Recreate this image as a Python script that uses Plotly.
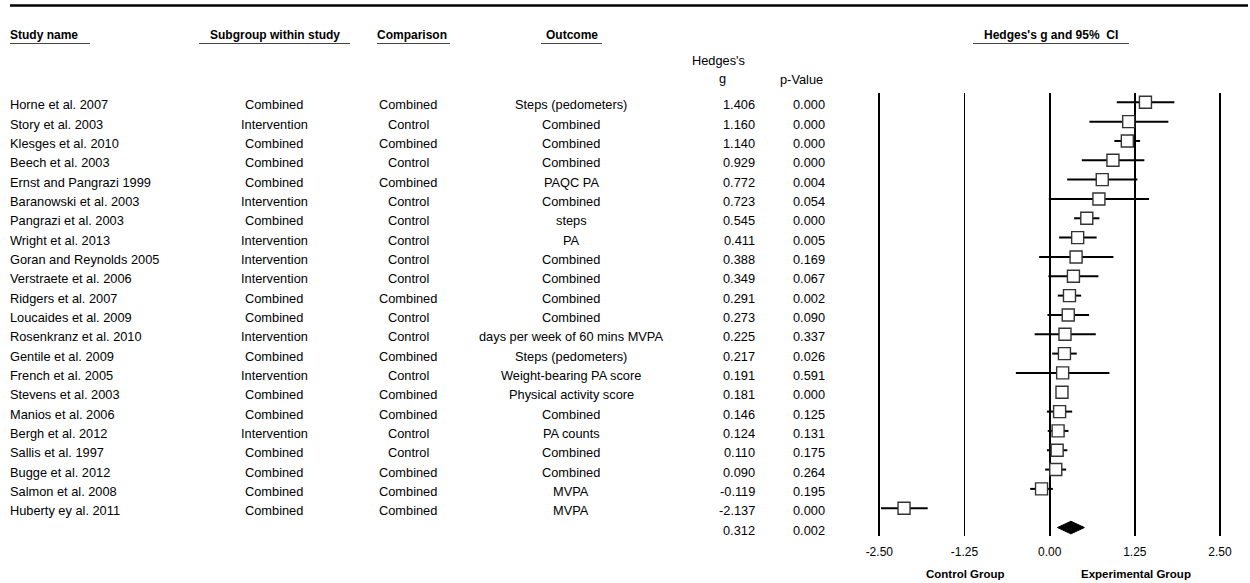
import plotly.graph_objects as go

# ---------------- data ----------------
studies = ["Horne et al. 2007", "Story et al. 2003", "Klesges et al. 2010", "Beech et al. 2003",
           "Ernst and Pangrazi 1999", "Baranowski et al. 2003", "Pangrazi et al. 2003", "Wright et al. 2013",
           "Goran and Reynolds 2005", "Verstraete et al. 2006", "Ridgers et al. 2007", "Loucaides et al. 2009",
           "Rosenkranz et al. 2010", "Gentile et al. 2009", "French et al. 2005", "Stevens et al. 2003",
           "Manios et al. 2006", "Bergh et al. 2012", "Sallis et al. 1997", "Bugge et al. 2012",
           "Salmon et al. 2008", "Huberty ey al. 2011"]
subgroups = ["Combined", "Intervention", "Combined", "Combined", "Combined", "Intervention", "Combined",
             "Intervention", "Intervention", "Intervention", "Combined", "Combined", "Intervention", "Combined",
             "Intervention", "Combined", "Combined", "Intervention", "Combined", "Combined", "Combined", "Combined"]
comparisons = ["Combined", "Control", "Combined", "Control", "Combined", "Control", "Control", "Control",
               "Control", "Control", "Combined", "Control", "Control", "Combined", "Control", "Combined",
               "Combined", "Control", "Control", "Combined", "Combined", "Combined"]
outcomes = ["Steps (pedometers)", "Combined", "Combined", "Combined", "PAQC PA", "Combined", "steps", "PA",
            "Combined", "Combined", "Combined", "Combined", "days per week of 60 mins MVPA",
            "Steps (pedometers)", "Weight-bearing PA score", "Physical activity score", "Combined",
            "PA counts", "Combined", "Combined", "MVPA", "MVPA"]
hedges_g = [1.406, 1.160, 1.140, 0.929, 0.772, 0.723, 0.545, 0.411, 0.388, 0.349, 0.291, 0.273,
            0.225, 0.217, 0.191, 0.181, 0.146, 0.124, 0.110, 0.090, -0.119, -2.137]
p_values = [0.000, 0.000, 0.000, 0.000, 0.004, 0.054, 0.000, 0.005, 0.169, 0.067, 0.002, 0.090,
            0.337, 0.026, 0.591, 0.000, 0.125, 0.131, 0.175, 0.264, 0.195, 0.000]
ci_lower = [0.985, 0.584, 0.950, 0.472, 0.257, -0.012, 0.359, 0.139, -0.154, -0.018, 0.120, -0.032,
            -0.220, 0.037, -0.496, 0.155, -0.040, -0.028, -0.040, -0.066, -0.286, -2.475]
ci_upper = [1.830, 1.742, 1.327, 1.390, 1.287, 1.458, 0.730, 0.690, 0.936, 0.716, 0.462, 0.579,
            0.677, 0.398, 0.877, 0.207, 0.330, 0.276, 0.260, 0.242, 0.047, -1.790]
summary_g = 0.312
summary_p = 0.002
summary_lower = 0.115
summary_upper = 0.510
tick_values = [-2.50, -1.25, 0.00, 1.25, 2.50]
tick_labels = ["-2.50", "-1.25", "0.00", "1.25", "2.50"]

# ---------------- layout helpers ----------------
W, H = 1250, 583
ROW0, ROWH = 102.3, 19.33
def PX(x): return x / W
def PY(y): return 1 - y / H
def ROW(p): return (p - ROW0) / ROWH

FONT = "Arial, Liberation Sans, sans-serif"
TXT = 12.8
n = len(studies)
rows = list(range(n))
sum_row = n

fig = go.Figure()

# study markers with CIs
fig.add_trace(go.Scatter(
    x=hedges_g, y=rows, mode="markers",
    marker=dict(symbol="square", size=12, color="white", line=dict(color="#333333", width=1.4)),
    error_x=dict(type="data", symmetric=False,
                 array=[u - g for u, g in zip(ci_upper, hedges_g)],
                 arrayminus=[g - l for g, l in zip(hedges_g, ci_lower)],
                 color="black", thickness=2, width=0),
    cliponaxis=False, hoverinfo="skip", showlegend=False))

# summary diamond
hh = 6.3 / ROWH
fig.add_trace(go.Scatter(
    x=[summary_lower, summary_g, summary_upper, summary_g, summary_lower],
    y=[sum_row, sum_row - hh, sum_row, sum_row + hh, sum_row],
    mode="lines", fill="toself", fillcolor="black", line=dict(color="black", width=1),
    hoverinfo="skip", showlegend=False))

unit = (1220 - 879.3) / 5
x_lo = -2.5 - (879.3 - 866) / unit
x_hi = 2.5 + (1232 - 1220) / unit

fig.update_layout(
    width=W, height=H, margin=dict(l=0, r=0, t=0, b=0),
    paper_bgcolor="white", plot_bgcolor="rgba(0,0,0,0)",
    font=dict(family=FONT, color="black", size=TXT),
    xaxis=dict(domain=[PX(866), PX(1232)], range=[x_lo, x_hi], tickmode="array",
               tickvals=tick_values, ticktext=tick_labels, showgrid=True, gridcolor="black",
               gridwidth=1.7, zeroline=True, zerolinecolor="black", zerolinewidth=1.7,
               showline=False, ticks="outside", ticklen=5, tickcolor="rgba(0,0,0,0)",
               tickfont=dict(size=12, family=FONT, color="black"), fixedrange=True),
    yaxis=dict(domain=[PY(536), PY(93)], range=[ROW(536), ROW(93)], visible=False,
               showgrid=False, zeroline=False, fixedrange=True),
)

ann = []
def text(x, y, s, anchor="center", yref="y", bold=False, size=TXT):
    ann.append(dict(x=x, y=y, xref="paper", yref=yref, text=("<b>%s</b>" % s) if bold else s,
                    showarrow=False, xanchor=anchor, yanchor="middle",
                    font=dict(family=FONT, size=size, color="black")))

off = 2.5 / ROWH
for i in rows:
    yy = i + off
    text(PX(8), yy, studies[i], "left")
    text(PX(274), yy, subgroups[i])
    text(PX(408), yy, comparisons[i])
    text(PX(571), yy, outcomes[i])
    text(PX(757), yy, "%.3f" % hedges_g[i], "right")
    text(PX(827), yy, "%.3f" % p_values[i], "right")
text(PX(757), sum_row + off, "%.3f" % summary_g, "right")
text(PX(827), sum_row + off, "%.3f" % summary_p, "right")

# headers
text(PX(8), PY(35), "Study name", "left", yref="paper", bold=True, size=12)
text(PX(275), PY(35), "Subgroup within study", yref="paper", bold=True, size=12)
text(PX(412), PY(35), "Comparison", yref="paper", bold=True, size=12)
text(PX(572), PY(35), "Outcome", yref="paper", bold=True, size=12)
text(PX(1051), PY(35), "Hedges's g and 95%  CI", yref="paper", bold=True, size=12)
text(PX(718), PY(60), "Hedges's", yref="paper")
text(PX(722), PY(78), "g", yref="paper")
text(PX(801), PY(79), "p-Value", yref="paper")
text(PX(965), PY(574), "Control Group", yref="paper", bold=True, size=11.5)
text(PX(1136), PY(574), "Experimental Group", yref="paper", bold=True, size=11.5)

shapes = [dict(type="line", xref="paper", yref="paper", x0=PX(10), x1=PX(1248), y0=PY(5.5), y1=PY(5.5),
               line=dict(color="black", width=2.6))]
for a, b in [(10, 90), (199, 350), (377, 450), (541, 602), (973, 1129)]:
    shapes.append(dict(type="line", xref="paper", yref="paper", x0=PX(a), x1=PX(b), y0=PY(43.5), y1=PY(43.5),
                       line=dict(color="#444444", width=1.1)))

fig.update_layout(annotations=ann, shapes=shapes)
fig.write_html("out.html", config={"displayModeBar": False, "staticPlot": True},
               post_script="document.body.style.margin='0';document.body.style.padding='0';"
                           "document.body.style.overflow='hidden';")
